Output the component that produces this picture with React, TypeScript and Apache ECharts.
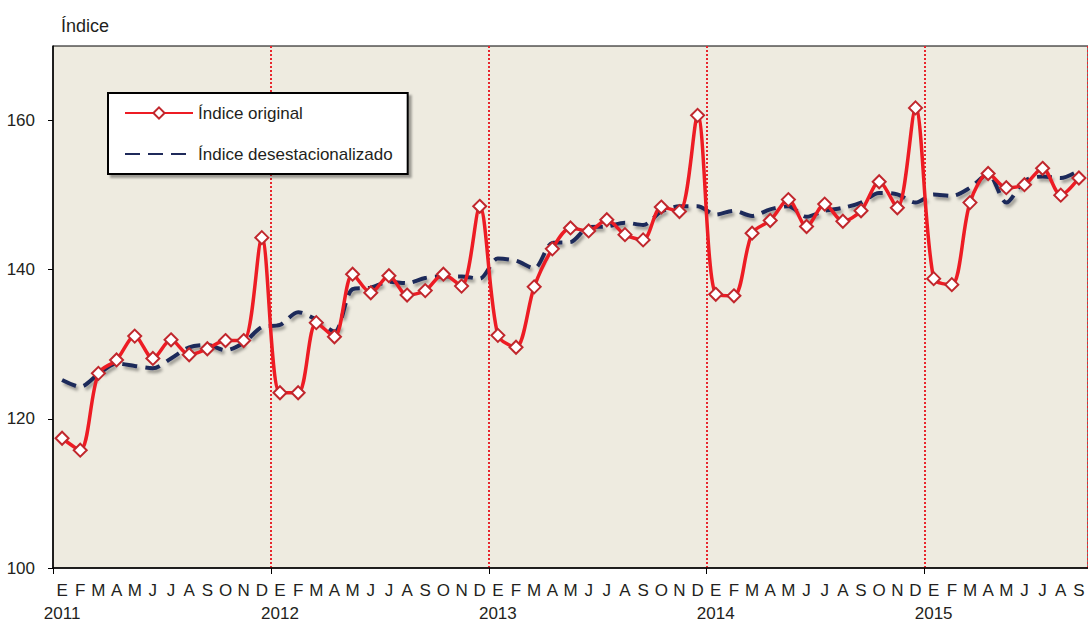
import React, { useEffect, useRef } from "react";
import * as echarts from "echarts";

const monthLetters = ["E", "F", "M", "A", "M", "J", "J", "A", "S", "O", "N", "D"];
const years = ["2011", "2012", "2013", "2014", "2015"];
const monthCount = 57;

const original = [
  117.4, 115.8, 126.1, 127.9, 131.1, 128.1, 130.6, 128.6, 129.4, 130.5, 130.5, 144.3,
  123.5, 123.5, 132.9, 131.0, 139.4, 136.9, 139.2, 136.6, 137.2, 139.4, 137.8, 148.5,
  131.2, 129.6, 137.7, 142.8, 145.6, 145.2, 146.7, 144.7, 144.0, 148.4, 147.8, 160.7,
  136.7, 136.5, 144.9, 146.6, 149.4, 145.8, 148.8, 146.5, 147.9, 151.8, 148.3, 161.7,
  138.8, 138.0, 149.0, 152.9, 151.0, 151.4, 153.6, 150.0, 152.3,
];

const deseasonalized = [
  125.2, 124.3, 126.0, 127.4, 127.1, 126.8, 128.1, 129.6, 129.9, 129.2, 130.2, 132.3,
  132.6, 134.3, 133.3, 131.7, 137.4, 137.6, 138.4, 138.2, 138.9, 139.1, 139.1, 138.8,
  141.5, 141.2, 140.2, 143.6, 143.7, 145.7, 145.8, 146.3, 146.0, 147.8, 148.5, 148.5,
  147.4, 147.9, 147.2, 148.1, 148.5, 147.1, 147.9, 148.3, 149.0, 150.3, 150.1, 149.0,
  150.1, 149.9, 151.0, 152.8, 149.0, 151.9, 152.5, 152.3, 153.3,
];

const yTicks = [100, 120, 140, 160];
const seriesNames = ["Índice original", "Índice desestacionalizado"];
const yAxisTitle = "Índice";

const categories: string[] = [];
for (let i = 0; i < monthCount; i++) {
  categories.push(monthLetters[i % 12] + " " + years[Math.floor(i / 12)]);
}

const FONT = "Liberation Sans, Arial, sans-serif";
const TEXT = "#231F20";

export default function App() {
  const ref = useRef<HTMLDivElement>(null);
  useEffect(() => {
    if (!ref.current) return;
    const chart = echarts.init(ref.current, undefined, { renderer: "svg" });
    chart.setOption({
      animation: false,
      textStyle: { fontFamily: FONT, color: TEXT },
      title: {
        text: yAxisTitle,
        left: 56,
        top: 12,
        textStyle: { fontFamily: FONT, fontSize: 18, fontWeight: "normal", color: TEXT },
      },
      legend: {
        orient: "vertical",
        left: 108,
        top: 93,
        data: [
          { name: seriesNames[0] },
          { name: seriesNames[1], itemStyle: { opacity: 0 } },
        ],
        backgroundColor: "#ffffff",
        borderColor: "#000000",
        borderWidth: 2,
        borderRadius: 0,
        padding: [10, 15, 10, 16],
        itemGap: 21,
        itemWidth: 68,
        itemHeight: 14,
        selectedMode: false,
        shadowColor: "rgba(0,0,0,0.35)",
        shadowBlur: 2,
        shadowOffsetX: 3,
        shadowOffsetY: 3,
        textStyle: { fontFamily: FONT, fontSize: 17, color: TEXT, lineHeight: 20 },
      },
      grid: {
        left: 53,
        top: 46,
        width: 1037,
        height: 522,
        show: true,
        backgroundColor: "#EEEBE0",
        borderColor: "#000000",
        borderWidth: 1,
        containLabel: false,
      },
      xAxis: {
        type: "category",
        data: categories,
        boundaryGap: true,
        axisLine: { show: true, lineStyle: { color: "#000", width: 1.5 } },
        axisTick: {
          show: true,
          interval: (index: number) => index % 12 === 0,
          length: 6,
          lineStyle: { color: "#000", width: 1 },
        },
        splitLine: {
          show: true,
          interval: (index: number) => index % 12 === 0 && index > 0,
          lineStyle: { color: "#E8262D", type: "dotted", width: 2 },
        },
        axisLabel: {
          interval: 0,
          margin: 10,
          formatter: (_v: string, index: number) => {
            const m = monthLetters[index % 12];
            if (index % 12 === 0) {
              return "{m|" + m + "}\n{y|" + years[Math.floor(index / 12)] + "}";
            }
            return "{m|" + m + "}";
          },
          rich: {
            m: { fontFamily: FONT, fontSize: 17, color: TEXT, lineHeight: 24 },
            y: { fontFamily: FONT, fontSize: 17, color: TEXT, lineHeight: 22 },
          },
        },
      },
      yAxis: {
        type: "value",
        min: 100,
        max: 170,
        interval: 20,
        axisLine: { show: true, lineStyle: { color: "#000", width: 1.5 } },
        axisTick: { show: true, length: 5, customValues: yTicks, lineStyle: { color: "#000" } },
        axisLabel: {
          customValues: yTicks,
          margin: 18,
          fontFamily: FONT,
          fontSize: 17,
          color: TEXT,
        },
        splitLine: { show: false },
      },
      series: [
        {
          name: seriesNames[1],
          type: "line",
          data: deseasonalized,
          smooth: 0.3,
          symbol: "none",
          z: 2,
          lineStyle: {
            color: "#1F2A5A",
            width: 4,
            type: [15, 8],
            shadowColor: "rgba(0,0,0,0.35)",
            shadowBlur: 3,
            shadowOffsetX: 2,
            shadowOffsetY: 3,
          },
          itemStyle: { color: "#1F2A5A" },
        },
        {
          name: seriesNames[0],
          type: "line",
          data: original,
          smooth: 0.3,
          symbol: "diamond",
          symbolSize: 13,
          showAllSymbol: true,
          z: 3,
          lineStyle: { color: "#ED1C24", width: 3.5 },
          itemStyle: { color: "#ffffff", borderColor: "#C1272D", borderWidth: 2 },
        },
      ],
    });
    return () => chart.dispose();
  }, []);
  return (
    <div
      ref={ref}
      style={{ position: "absolute", left: 0, top: 0, width: 1088, height: 623 }}
    />
  );
}
